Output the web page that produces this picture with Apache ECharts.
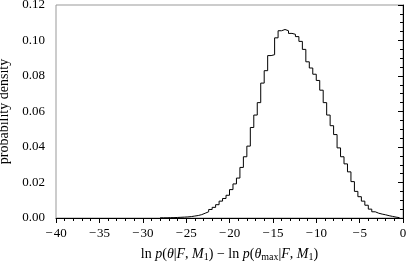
<!DOCTYPE html>
<html><head><meta charset="utf-8">
<script src="https://cdn.jsdelivr.net/npm/echarts@6/dist/echarts.min.js"></script>
<style>html,body{margin:0;padding:0;background:#fff}#c{width:407px;height:265px}</style>
</head><body><div id="c"></div>
<script>
// histogram: bins of width 0.4 starting at -28.0
var binStart = -28.0;
var binWidth = 0.4;
var density = [
 0.0001,0.0001,0.0002,0.0002,0.0003,0.0004,0.0005,0.0006,0.0008,0.0011,
 0.0014,0.0019,0.0027,0.0035,0.0048,0.0060,0.0075,0.0095,0.0110,0.0128,
 0.0160,0.0192,0.0225,0.0285,0.0345,0.0405,0.0510,0.0580,0.0650,0.0760,
 0.0830,0.0915,0.0920,0.1015,0.1055,0.1062,0.1055,0.1040,0.1035,0.1022,
 0.0995,0.0950,0.0880,0.0845,0.0810,0.0775,0.0720,0.0650,0.0580,0.0520,
 0.0470,0.0395,0.0345,0.0305,0.0260,0.0205,0.0150,0.0120,0.0095,0.0072,
 0.0050,0.0035,0.0027,0.0022,0.0018,0.0013,0.0009,0.0005,0.0002
];
var xTicks = [-40,-35,-30,-25,-20,-15,-10,-5,0];
var yTicks = [0,0.02,0.04,0.06,0.08,0.10,0.12];

var pts = [];
for (var i = 0; i < density.length; i++) {
  pts.push([+(binStart + i*binWidth).toFixed(2), density[i]]);
}
pts.push([+(binStart + density.length*binWidth).toFixed(2), 0]);

var font = 'Liberation Serif';
var chart = echarts.init(document.getElementById('c'), null, {renderer:'canvas'});
chart.setOption({
  animation:false,
  grid:{left:56,right:4,top:5,bottom:47,show:true,borderColor:'#999',borderWidth:1,
    containLabel:false,outerBoundsMode:'none'},
  xAxis:{type:'value',min:-40,max:0,interval:5,
    axisLine:{onZero:false,lineStyle:{color:'#000'}},
    axisTick:{length:5,lineStyle:{color:'#000'}},
    minorTick:{show:true,splitNumber:5,length:3,lineStyle:{color:'#000'}},
    splitLine:{show:false},
    axisLabel:{color:'#000',fontFamily:font,fontSize:13,margin:9,
      formatter:function(v){return v<0?'\u2212\u200a'+Math.abs(v):String(v);}},
    name:'{n|ln }{i|p}{n|(}{i|\u03b8}{n||}{i|F}{n|, }{i|M}{s|1}{n|) \u2212 ln }{i|p}{n|(}{i|\u03b8}{s|max}{n||}{i|F}{n|, }{i|M}{s|1}{n|)}',
    nameLocation:'middle',nameGap:28,
    nameTextStyle:{rich:{
      n:{fontFamily:font,fontSize:14,color:'#000',lineHeight:16},
      i:{fontFamily:font,fontSize:14,fontStyle:'italic',color:'#000',lineHeight:16},
      s:{fontFamily:font,fontSize:10,color:'#000',lineHeight:12,verticalAlign:'bottom'}
    }}
  },
  yAxis:{type:'value',min:0,max:0.12,interval:0.02,
    axisLine:{show:true,lineStyle:{color:'#000'}},
    axisTick:{show:true,length:5,lineStyle:{color:'#000'}},
    minorTick:{show:true,splitNumber:4,length:3,lineStyle:{color:'#000'}},
    splitLine:{show:false},
    axisLabel:{color:'#000',fontFamily:font,fontSize:13,margin:11,
      formatter:function(v){return v.toFixed(2);}},
    name:'probability density',nameLocation:'middle',nameGap:42,
    nameTextStyle:{fontFamily:font,fontSize:14,color:'#000'}
  },
  series:[{type:'line',step:'end',data:pts,symbol:'none',
    lineStyle:{color:'#000',width:1}}]
});
</script></body></html>
